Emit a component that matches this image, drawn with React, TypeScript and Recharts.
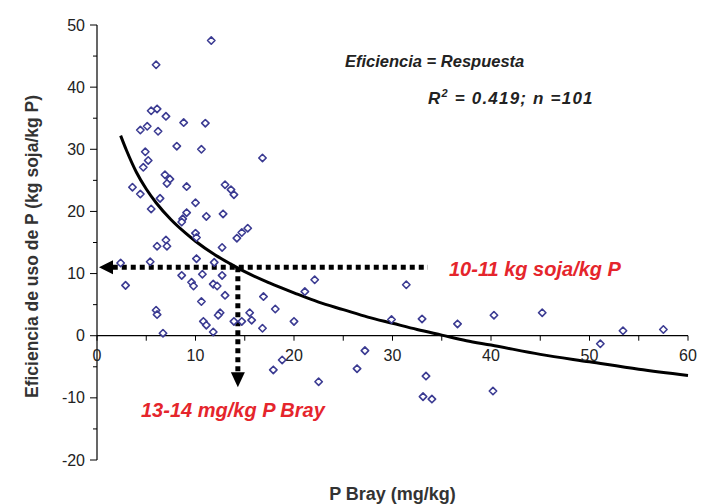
import { ComposedChart, Scatter, Line, XAxis, YAxis, ReferenceLine, ReferenceDot } from "recharts"

// P Bray (mg/kg) of each site
const pBray = [
  11.6, 6.0, 5.5, 6.1, 7.0, 8.8, 11.0, 4.4, 5.1, 6.2,
  8.1, 10.6, 4.9, 5.2, 4.7, 6.9, 7.4, 7.1, 9.1, 3.6,
  13.0, 13.6, 13.9, 16.8, 4.4, 6.4, 10.0, 5.5, 11.1, 12.8,
  9.1, 8.7, 8.6, 15.3, 14.7, 14.2, 10.0, 10.1, 7.0, 6.1,
  7.1, 12.7, 2.4, 5.4, 10.1, 11.9, 8.6, 10.7, 12.7, 2.9,
  9.6, 9.8, 11.8, 12.2, 13.0, 10.6, 6.0, 6.1, 10.8, 11.1,
  11.8, 12.5, 12.3, 6.7, 13.9, 14.7, 15.5, 15.7, 16.9, 18.1,
  16.8, 22.1, 21.1, 20.0, 31.4, 29.9, 33.0, 36.6, 40.3, 45.2,
  53.4, 57.5, 51.1, 17.9, 18.8, 22.5, 26.4, 27.2, 33.4, 33.1,
  34.0, 40.2,
]

// Eficiencia de uso de P (kg soja/kg P), same order
const eficiencia = [
  47.5, 43.6, 36.2, 36.5, 35.3, 34.3, 34.2, 33.1, 33.7, 32.9,
  30.5, 30.0, 29.6, 28.2, 27.1, 25.9, 25.2, 24.5, 24.0, 23.9,
  24.3, 23.5, 22.7, 28.6, 22.8, 22.1, 21.4, 20.4, 19.2, 19.6,
  19.8, 18.8, 18.3, 17.3, 16.6, 15.7, 16.5, 15.8, 15.4, 14.4,
  14.4, 14.2, 11.7, 11.9, 12.4, 11.8, 9.7, 9.9, 9.7, 8.1,
  8.6, 8.0, 8.3, 8.0, 6.5, 5.5, 4.1, 3.4, 2.3, 1.7,
  0.6, 3.7, 3.3, 0.4, 2.3, 2.3, 3.7, 2.5, 6.3, 4.3,
  1.2, 9.0, 7.1, 2.3, 8.2, 2.6, 2.7, 1.9, 3.3, 3.7,
  0.8, 1.0, -1.3, -5.5, -3.9, -7.4, -5.3, -2.4, -6.5, -9.8,
  -10.2, -8.9,
]

// fitted curve as drawn
const fitX = [2.4, 3, 4, 5, 6, 7.5, 9, 10, 12, 13.5, 15, 17.5, 20, 22.5, 25, 27.5, 30, 32.5, 35, 37.5, 40, 45, 50, 55, 60]
const fitY = [32.2, 29.8, 26.3, 23.6, 21.4, 18.7, 16.5, 15.2, 13.0, 11.6, 10.3, 8.5, 6.9, 5.4, 4.2, 3.0, 2.0, 1.0, 0.1, -0.8, -1.5, -3.0, -4.2, -5.4, -6.4]

const xTicks = [0, 5, 10, 15, 20, 25, 30, 35, 40, 45, 50, 55, 60]
const xTickLabels = ["0", "", "10", "", "20", "", "30", "", "40", "", "50", "", "60"]
const yTicks = [-20, -15, -10, -5, 0, 5, 10, 15, 20, 25, 30, 35, 40, 45, 50]

// read-off guide lines
const guideY = 11
const guideX = 14.3

const points = pBray.map((x, i) => ({ x, y: eficiencia[i] }))
const fit = fitX.map((x, i) => ({ x, y: fitY[i] }))
const axisTicks = xTicks.map((x, i) => ({ x, y: 0, label: xTickLabels[i] }))

const font = "'Liberation Sans', Arial, sans-serif"

function Diamond(props: any) {
  const { cx, cy } = props
  const s = 3.7
  return (
    <path
      d={`M${cx},${cy - s}L${cx + s},${cy}L${cx},${cy + s}L${cx - s},${cy}Z`}
      fill="#fff"
      stroke="#3b3b92"
      strokeWidth={1.6}
      strokeLinejoin="round"
    />
  )
}

function XTick(props: any) {
  const { cx, cy, payload } = props
  return (
    <g>
      <line x1={cx} x2={cx} y1={cy} y2={cy + 5} stroke="#000" strokeWidth={1} />
      {payload.label && (
        <text x={cx} y={cy + 20} dy="0.35em" textAnchor="middle" fontSize={16} fill="#222" fontFamily={font}>
          {payload.label}
        </text>
      )}
    </g>
  )
}

function YTick(props: any) {
  const { x, y, payload } = props
  const major = payload.value % 10 === 0
  return (
    <g>
      <line x1={x - (major ? 7 : 4)} x2={x} y1={y} y2={y} stroke="#000" strokeWidth={1} />
      {major && (
        <text x={x - 12} y={y} dy="0.35em" textAnchor="end" fontSize={16} fill="#222" fontFamily={font}>
          {payload.value}
        </text>
      )}
    </g>
  )
}

function ArrowLeft(props: any) {
  const { cx, cy } = props
  return <path d={`M${cx},${cy}L${cx + 14},${cy - 7}L${cx + 14},${cy + 7}Z`} fill="#000" />
}

function ArrowDown(props: any) {
  const { cx, cy } = props
  return <path d={`M${cx},${cy}L${cx - 7},${cy - 15}L${cx + 7},${cy - 15}Z`} fill="#000" />
}

function YLabel(props: any) {
  const vb = props.viewBox
  const cx = vb.x + 32
  const cy = vb.y + vb.height / 2 + 4
  return (
    <text
      x={cx}
      y={cy}
      transform={`rotate(-90, ${cx}, ${cy})`}
      textAnchor="middle"
      dominantBaseline="central"
      fontSize={17.5}
      fontWeight="bold"
      fill="#333"
      fontFamily={font}
    >
      Eficiencia de uso de P  (kg soja/kg P)
    </text>
  )
}

export default function App() {
  return (
    <div style={{ position: "absolute", left: 0, top: 0, width: 705, height: 504, background: "#fff" }}>
      <ComposedChart width={705} height={504} margin={{ top: 25, right: 17, left: 0, bottom: 0 }}>
        <XAxis
          type="number"
          dataKey="x"
          domain={[0, 60]}
          axisLine={false}
          tickLine={false}
          tick={false}
          height={44}
          label={{
            value: "P Bray (mg/kg)",
            position: "insideBottom",
            offset: 4,
            fontSize: 18,
            fontWeight: "bold",
            fill: "#333",
            fontFamily: font,
          }}
        />
        <YAxis
          type="number"
          domain={[-20, 50]}
          ticks={yTicks}
          interval={0}
          width={97}
          axisLine={{ stroke: "#000", strokeWidth: 1.2 }}
          tickLine={false}
          tickSize={0}
          tickMargin={0}
          tick={<YTick />}
          label={<YLabel />}
        />
        <ReferenceLine y={0} stroke="#000" strokeWidth={1.3} />
        <Scatter data={axisTicks} dataKey="y" shape={<XTick />} isAnimationActive={false} />
        <Scatter data={points} dataKey="y" shape={<Diamond />} isAnimationActive={false} />
        <Line
          data={fit}
          dataKey="y"
          type="monotone"
          stroke="#000"
          strokeWidth={3}
          dot={false}
          isAnimationActive={false}
        />
        <ReferenceLine
          segment={[{ x: 1.6, y: guideY }, { x: 33.6, y: guideY }]}
          stroke="#000"
          strokeWidth={5}
          strokeDasharray="5 4"
        />
        <ReferenceLine
          segment={[{ x: guideX, y: guideY }, { x: guideX, y: -5.9 }]}
          stroke="#000"
          strokeWidth={5}
          strokeDasharray="5 4"
        />
        <ReferenceDot x={0.2} y={guideY} r={0} shape={<ArrowLeft />} />
        <ReferenceDot x={guideX} y={-8.3} r={0} shape={<ArrowDown />} />
      </ComposedChart>
      <svg
        width={705}
        height={504}
        style={{ position: "absolute", left: 0, top: 0, pointerEvents: "none" }}
        fontFamily={font}
        fontWeight="bold"
        fontStyle="italic"
      >
        <text x={345} y={67} fontSize={16.5} fill="#222">
          Eficiencia = Respuesta
        </text>
        <text x={428} y={104} fontSize={17} fill="#222" letterSpacing={1.2}>
          R<tspan dy={-7} fontSize={11}>2</tspan>
          <tspan dy={7}> = 0.419; n =101</tspan>
        </text>
        <text x={449} y={276} fontSize={20} fill="#e5252c">
          10-11 kg soja/kg P
        </text>
        <text x={141} y={417} fontSize={20} fill="#e5252c">
          13-14 mg/kg P Bray
        </text>
      </svg>
    </div>
  )
}
